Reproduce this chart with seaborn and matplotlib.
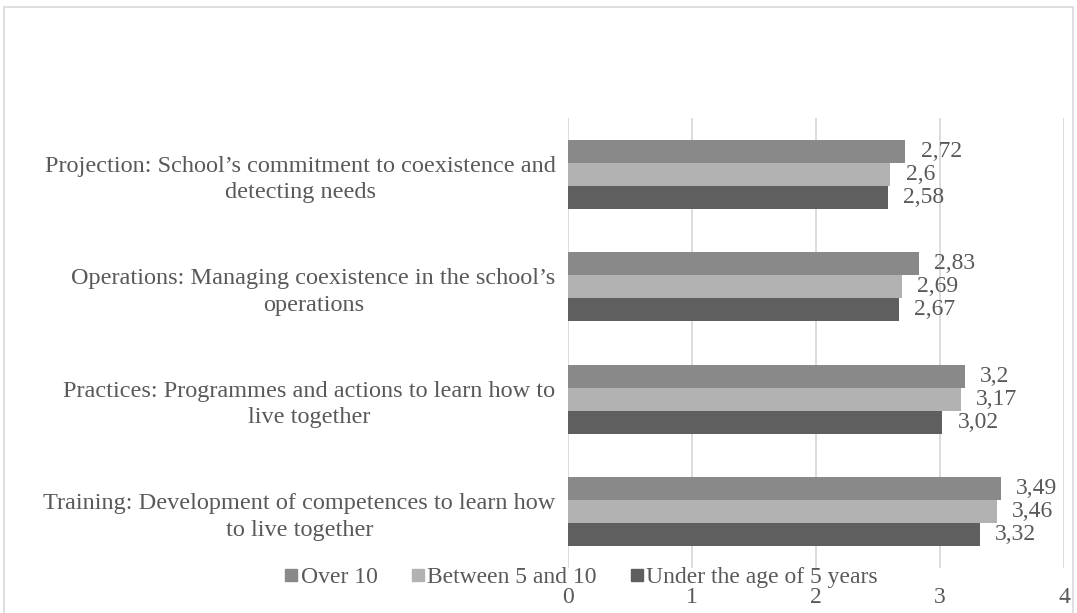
import matplotlib
matplotlib.use("Agg")
import matplotlib.pyplot as plt
import seaborn as sns
import pandas as pd
from matplotlib.lines import Line2D
from matplotlib.patches import Rectangle

categories = [
    "Projection: School\u2019s commitment to coexistence and\ndetecting needs",
    "Operations: Managing coexistence in the school\u2019s\noperations",
    "Practices: Programmes and actions to learn how to\nlive together",
    "Training: Development of competences to learn how\nto live together",
]
series_names = ["Over 10", "Between 5 and 10", "Under the age of 5 years"]
over_10 = [2.72, 2.83, 3.20, 3.49]
between_5_10 = [2.60, 2.69, 3.17, 3.46]
under_5 = [2.58, 2.67, 3.02, 3.32]
x_ticks = [0, 1, 2, 3, 4]

colors = ["#898989", "#b2b2b2", "#5f5f5f"]
text_color = "#595959"

rows = []
for name, vals in zip(series_names, [over_10, between_5_10, under_5]):
    for c, v in zip(categories, vals):
        rows.append({"category": c, "series": name, "value": v})
df = pd.DataFrame(rows)

sns.set_style("white")
plt.rcParams["font.family"] = ["Liberation Serif", "DejaVu Serif"]

fig = plt.figure(figsize=(10.77, 6.13), dpi=100)
ax = fig.add_axes([568 / 1077, 1 - 568 / 613, (1064 - 568) / 1077, (568 - 118) / 613])

sns.barplot(data=df, y="category", x="value", hue="series", order=categories,
            hue_order=series_names, palette=colors, orient="h", width=0.61,
            saturation=1, ax=ax, legend=False, errorbar=None, linewidth=0)

for cont in ax.containers:
    labels = [f"{v:g}".replace(".", ",") for v in cont.datavalues]
    ax.bar_label(cont, labels=labels, padding=11, fontsize=17, color=text_color)

ax.set_xlim(0, 4)
ax.set_xticks(x_ticks)
ax.set_xticklabels([str(t) for t in x_ticks])
ax.set_xlabel("")
ax.set_ylabel("")
ax.grid(axis="x", color="#d9d9d9", linewidth=1.3)
ax.set_axisbelow(True)
for s in ax.spines.values():
    s.set_visible(False)
ax.tick_params(axis="x", length=0, pad=14, labelsize=17, labelcolor=text_color)
ax.tick_params(axis="y", length=0, pad=9, labelsize=17.5, labelcolor=text_color)
for lab in ax.get_yticklabels():
    lab.set_multialignment("center")
    lab.set_linespacing(1.35)

handles = [Line2D([0], [0], marker="s", linestyle="none", markersize=8.5,
                  markerfacecolor=c, markeredgecolor=c) for c in colors]
fig.legend(handles, series_names, loc="center", bbox_to_anchor=(581 / 1077, 1 - 577 / 613),
           ncol=3, frameon=False, fontsize=17, labelcolor=text_color,
           handlelength=0.6, handletextpad=0.1, columnspacing=1.4)

fig.patches.append(Rectangle((4 / 1077, -0.01), (1073 - 4) / 1077, 1 - 7 / 613 + 0.01,
                             transform=fig.transFigure, fill=False,
                             edgecolor="#d9d9d9", linewidth=1.2))

fig.savefig("out.png", dpi=100)
